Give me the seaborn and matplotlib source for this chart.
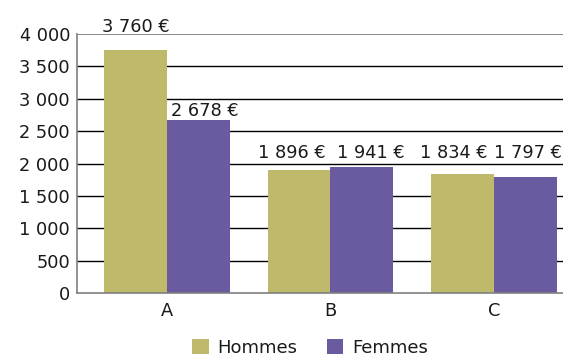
import matplotlib
matplotlib.use("Agg")
import matplotlib.pyplot as plt
import seaborn as sns
import pandas as pd

# Data
categories = ["A", "B", "C"]
series = ["Hommes", "Femmes"]
hommes = [3760, 1896, 1834]
femmes = [2678, 1941, 1797]
y_ticks = [0, 500, 1000, 1500, 2000, 2500, 3000, 3500, 4000]

colors = {"Hommes": "#BFB96B", "Femmes": "#6A5AA0"}

df = pd.DataFrame({
    "categorie": categories * 2,
    "sexe": [series[0]] * len(hommes) + [series[1]] * len(femmes),
    "salaire": hommes + femmes,
})


def fr_number(v):
    return f"{v:,}".replace(",", " ")


sns.set_theme(style="white")
plt.rcParams["font.family"] = ["DejaVu Sans"]

fig = plt.figure(figsize=(5.63, 3.56), dpi=100)
ax = fig.add_axes([0.1362, 0.1761, 0.8638, 0.7284])

sns.barplot(data=df, x="categorie", y="salaire", hue="sexe", hue_order=series,
            order=categories, palette=colors, width=0.77, saturation=1,
            linewidth=0, errorbar=None, ax=ax)

ax.set_xlim(-0.552, 2.422)
ax.set_ylim(0, 4000)
ax.set_yticks(y_ticks)
ax.set_yticklabels([fr_number(v) for v in y_ticks])
ax.set_xlabel("")
ax.set_ylabel("")
ax.tick_params(axis="both", length=0, labelsize=12.8, colors="#1a1a1a")
ax.tick_params(axis="y", pad=4.8)
ax.tick_params(axis="x", pad=6)

# Horizontal grid lines
ax.set_axisbelow(True)
for v in y_ticks[1:-1]:
    ax.axhline(v, color="#000000", lw=1.0, zorder=0.5)
ax.axhline(y_ticks[-1], color="#808080", lw=1.3, zorder=0.5)

for side in ["top", "right"]:
    ax.spines[side].set_visible(False)
for side in ["left", "bottom"]:
    ax.spines[side].set_color("#808080")
    ax.spines[side].set_linewidth(1.2)

# Value labels (offsets in pixels: x, y above bar top to baseline)
label_offsets = {
    "Hommes": [(0, 17.3), (-7, 12.1), (-9, 16.1)],
    "Femmes": [(6.5, 3.3), (8.5, 9.2), (2.5, 18.6)],
}
values = {"Hommes": hommes, "Femmes": femmes}
for name, container in zip(series, ax.containers):
    for bar, val, (dx, dy) in zip(container, values[name], label_offsets[name]):
        cx = bar.get_x() + bar.get_width() / 2
        ax.annotate(f"{fr_number(val)} €", xy=(cx, val),
                    xytext=(dx * 0.72, dy * 0.72), textcoords="offset points",
                    ha="center", va="baseline", fontsize=12.8, color="#1a1a1a",
                    annotation_clip=False)

handles, labels = ax.get_legend_handles_labels()
if ax.get_legend() is not None:
    ax.get_legend().remove()
fig.legend(handles, labels, loc="center", bbox_to_anchor=(310 / 563, 1 - 348 / 356),
           ncol=2, frameon=False, fontsize=13, handlelength=0.9, handleheight=0.9,
           handletextpad=0.5, columnspacing=1.6, labelcolor="#1a1a1a")

fig.savefig("out.png", dpi=100)
